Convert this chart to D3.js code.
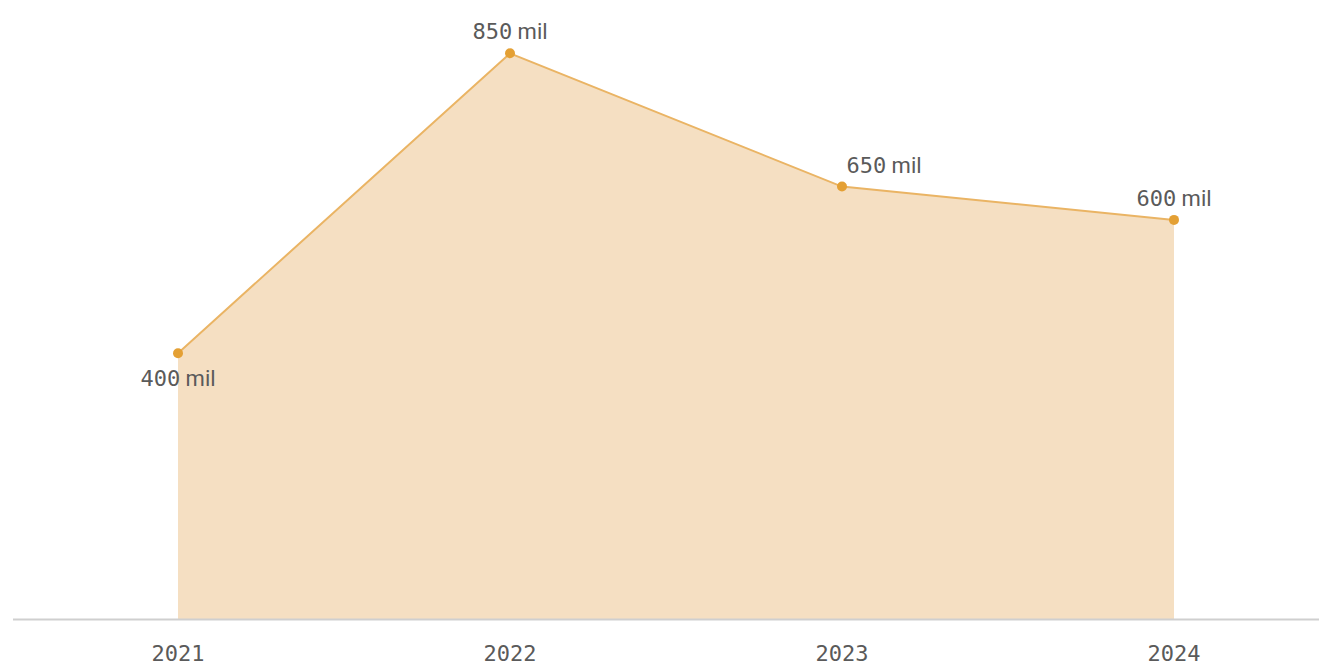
<!DOCTYPE html>
<html><head><meta charset="utf-8">
<script src="https://cdn.jsdelivr.net/npm/d3@7"></script>
<style>
html,body{margin:0;padding:0;background:#fff;}
svg{display:block;}
</style></head>
<body><svg id="c" width="1319" height="666"></svg>
<script>
const years = ["2021", "2022", "2023", "2024"];
const values = [400, 850, 650, 600];
const unit = "mil";

const W = 1319, H = 666;
const svg = d3.select("#c");
const x = d3.scalePoint().domain(years).range([12, 1340]).padding(0.5);
const y = d3.scaleLinear().domain([0, 930]).range([619.7, 0]);
const data = years.map((yr, i) => ({yr, v: values[i], i}));

svg.append("path").datum(data)
  .attr("fill", "#F5DFC2")
  .attr("d", d3.area().x(d => x(d.yr)).y0(y(0)).y1(d => y(d.v)));

svg.append("line").attr("x1", 13).attr("x2", W).attr("y1", 619.5).attr("y2", 619.5)
  .attr("stroke", "#cfcfcf").attr("stroke-width", 2);

svg.append("path").datum(data)
  .attr("fill", "none").attr("stroke", "#EAB464").attr("stroke-width", 2)
  .attr("d", d3.line().x(d => x(d.yr)).y(d => y(d.v)));

svg.selectAll("circle.pt").data(data).join("circle")
  .attr("cx", d => x(d.yr)).attr("cy", d => y(d.v)).attr("r", 5)
  .attr("fill", "#E4A034");

const lbl = svg.selectAll("text.lbl").data(data).join("text")
  .attr("class", "lbl")
  .attr("x", d => x(d.yr) + (d.i === 2 ? 42 : 0))
  .attr("y", d => d.i === 0 ? y(d.v) + 33 : y(d.v) - 14)
  .attr("text-anchor", "middle")
  .attr("fill", "#5a5a5a").attr("font-size", 22);
lbl.append("tspan").attr("font-family", "DejaVu Sans Mono").attr("font-size", 22).text(d => d.v);
lbl.append("tspan").attr("font-family", "Roboto").text(" " + unit);

svg.selectAll("text.ax").data(years).join("text")
  .attr("class", "ax")
  .attr("x", d => x(d)).attr("y", 661)
  .attr("text-anchor", "middle")
  .attr("font-family", "DejaVu Sans Mono").attr("font-size", 22)
  .attr("fill", "#5a5a5a").text(d => d);
</script></body></html>
